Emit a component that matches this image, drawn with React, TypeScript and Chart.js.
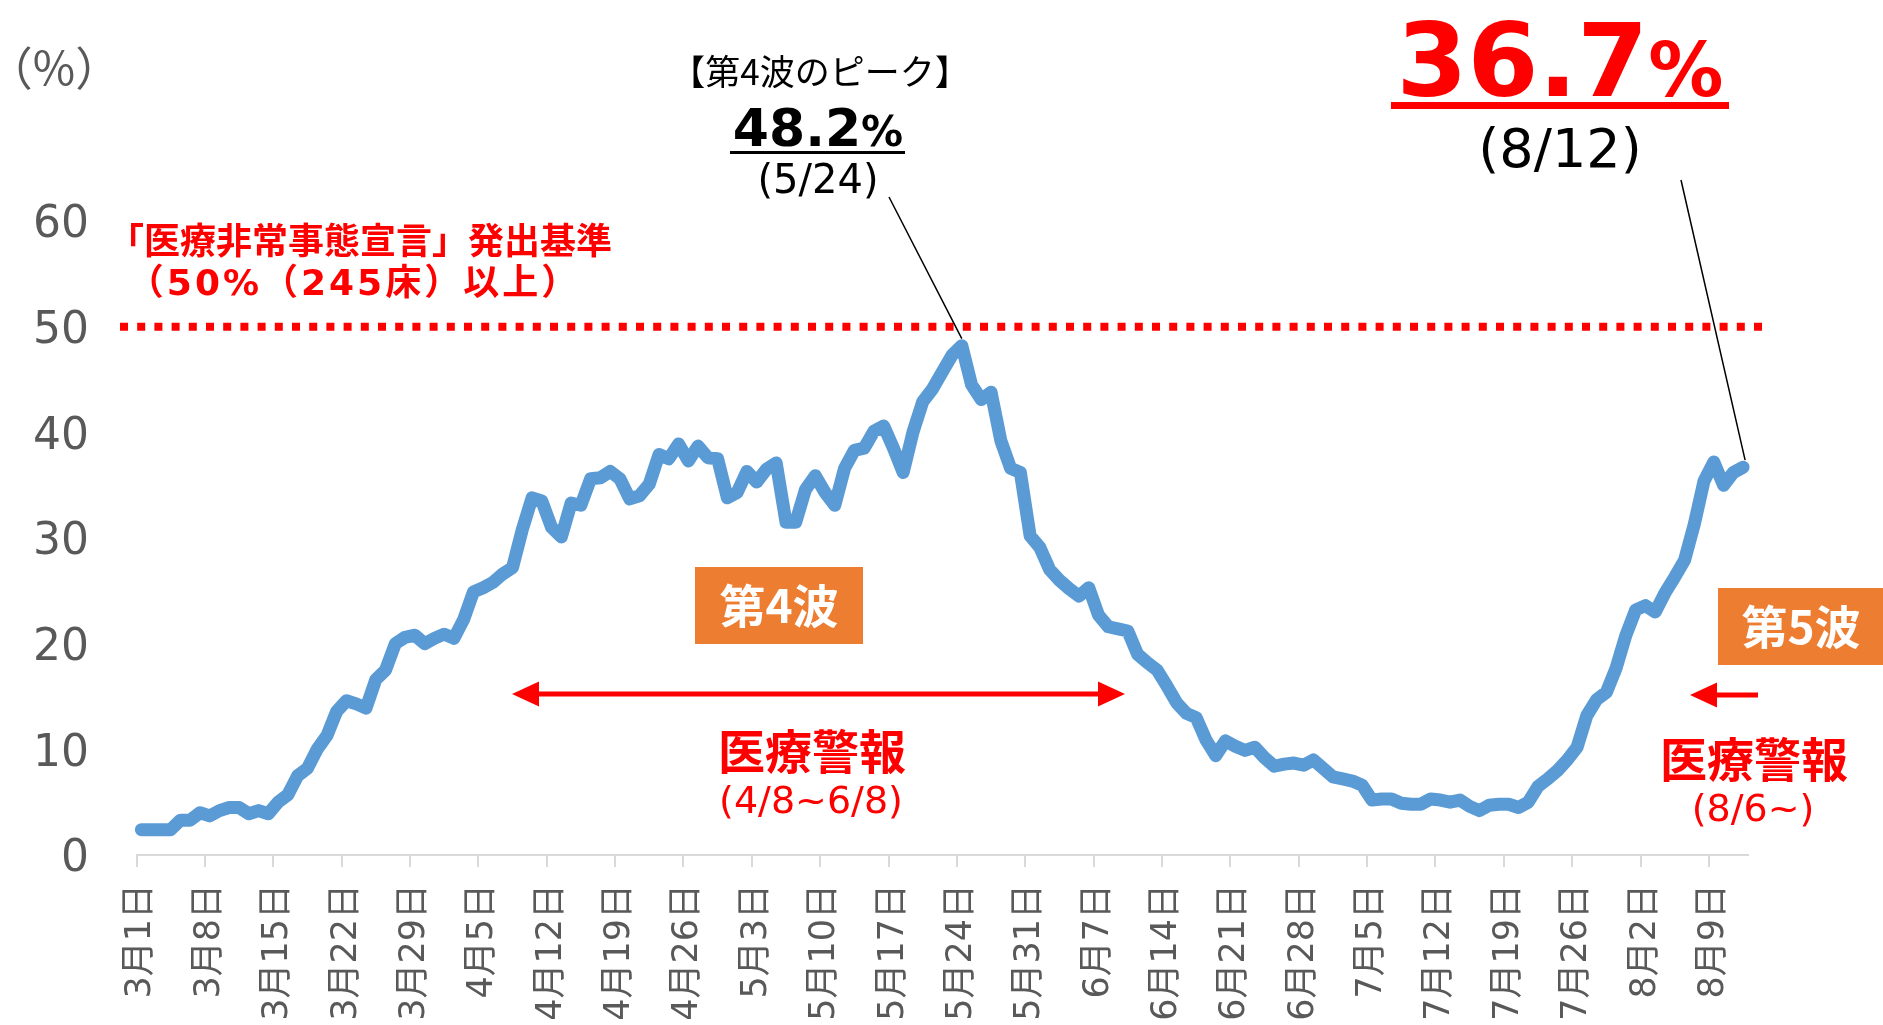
import React, { useEffect, useRef } from "react";
import { Chart, registerables } from "chart.js";

Chart.register(...registerables);

// ---- data ----
const MONTHS = [3, 4, 5, 6, 7, 8];
const DAYS_SHOWN = [31, 30, 31, 30, 31, 12];
const DATES: string[] = [];
MONTHS.forEach((m, k) => {
  for (let d = 1; d <= DAYS_SHOWN[k]; d++) DATES.push(`${m}月${d}日`);
});

const TICK_LABELS = [
  "3月1日", "3月8日", "3月15日", "3月22日", "3月29日", "4月5日", "4月12日", "4月19日",
  "4月26日", "5月3日", "5月10日", "5月17日", "5月24日", "5月31日", "6月7日", "6月14日",
  "6月21日", "6月28日", "7月5日", "7月12日", "7月19日", "7月26日", "8月2日", "8月9日",
];

// 病床使用率 (%) 3/1 - 8/12
const OCCUPANCY = [
  2.4, 2.4, 2.4, 2.4, 3.3, 3.3, 4.0, 3.7, 4.2, 4.5,
  4.5, 3.9, 4.2, 3.9, 5.0, 5.7, 7.5, 8.2, 10.0, 11.3,
  13.6, 14.6, 14.3, 13.9, 16.6, 17.5, 20.0, 20.6, 20.8, 20.0,
  20.5, 20.9, 20.5, 22.3, 24.9, 25.3, 25.8, 26.6, 27.2, 30.8,
  33.8, 33.5, 31.0, 30.1, 33.3, 33.1, 35.6, 35.7, 36.3, 35.6,
  33.7, 34.0, 35.1, 37.9, 37.5, 38.9, 37.3, 38.7, 37.6, 37.5,
  33.8, 34.3, 36.3, 35.3, 36.5, 37.1, 31.5, 31.5, 34.6, 35.9,
  34.3, 33.1, 36.6, 38.3, 38.5, 40.1, 40.6, 38.5, 36.2, 40.0,
  42.9, 44.1, 45.7, 47.3, 48.2, 44.5, 43.1, 43.8, 39.2, 36.6,
  36.2, 30.2, 29.1, 27.0, 26.0, 25.2, 24.5, 25.3, 22.7, 21.6,
  21.4, 21.2, 19.0, 18.2, 17.5, 16.0, 14.4, 13.4, 13.0, 10.9,
  9.4, 10.8, 10.3, 9.9, 10.2, 9.2, 8.4, 8.6, 8.7, 8.5,
  9.0, 8.2, 7.4, 7.2, 7.0, 6.6, 5.2, 5.3, 5.3, 4.9,
  4.8, 4.8, 5.3, 5.2, 5.0, 5.2, 4.6, 4.2, 4.7, 4.8,
  4.8, 4.5, 5.0, 6.5, 7.2, 8.0, 9.0, 10.2, 13.2, 14.7,
  15.4, 17.7, 20.8, 23.2, 23.6, 23.0, 24.8, 26.3, 27.9, 31.3,
  35.4, 37.2, 35.0, 36.2, 36.7,
];

const Y_TICKS = [0, 10, 20, 30, 40, 50, 60];
const Y_MIN = 0;
const Y_MAX = 60;
const Y_STEP = 10;
const THRESHOLD = 50;
const PEAK_DATE = "5月24日";
const LATEST_DATE = "8月12日";

const TICK_SET = new Set(TICK_LABELS);

const BLUE = "#5B9BD5";
const RED = "#FF0000";
const ORANGE = "#ED7D31";
const GRAY = "#595959";
const AXIS_GRAY = "#D9D9D9";
const JP = '"Noto Sans CJK JP", "DejaVu Sans", sans-serif';
const DV = '"DejaVu Sans", "Noto Sans CJK JP", sans-serif';

function drawArrowHead(ctx: CanvasRenderingContext2D, tipX: number, y: number, dir: number, len: number, half: number) {
  ctx.beginPath();
  ctx.moveTo(tipX, y);
  ctx.lineTo(tipX - dir * len, y - half);
  ctx.lineTo(tipX - dir * len, y + half);
  ctx.closePath();
  ctx.fill();
}

const annotationPlugin = {
  id: "annotations",
  beforeDatasetsDraw(chart: any) {
    const ctx = chart.ctx as CanvasRenderingContext2D;
    const ys = chart.scales.y;
    ctx.save();
    // y-axis labels
    ctx.fillStyle = GRAY;
    ctx.font = `44px ${DV}`;
    ctx.textAlign = "right";
    ctx.textBaseline = "middle";
    Y_TICKS.forEach((v) => ctx.fillText(String(v), 89, ys.getPixelForValue(v) + 5));

    // threshold dotted line
    const y = ys.getPixelForValue(THRESHOLD);
    ctx.strokeStyle = RED;
    ctx.lineWidth = 8;
    ctx.setLineDash([8, 9.2]);
    ctx.beginPath();
    ctx.moveTo(120, y);
    ctx.lineTo(1770, y);
    ctx.stroke();
    ctx.restore();
  },
  afterDraw(chart: any) {
    const ctx = chart.ctx as CanvasRenderingContext2D;
    ctx.save();

    // (%) unit
    ctx.fillStyle = GRAY;
    ctx.font = `46px ${JP}`;
    ctx.textAlign = "center";
    ctx.textBaseline = "middle";
    ctx.fillText("（%）", 54, 68);

    // threshold label
    ctx.fillStyle = RED;
    ctx.font = `bold 36px ${JP}`;
    ctx.fillText("「医療非常事態宣言」発出基準", 360, 240);
    ctx.font = `bold 36px ${DV}`;
    (ctx as any).letterSpacing = "3px";
    ctx.fillText("（50%（245床）以上）", 354, 286);
    (ctx as any).letterSpacing = "0px";

    // 4th wave peak
    ctx.fillStyle = "#000";
    ctx.font = `35px ${JP}`;
    ctx.fillText("【第4波のピーク】", 820, 72);
    ctx.textBaseline = "alphabetic";
    ctx.textAlign = "left";
    ctx.font = `bold 52px ${DV}`;
    const w1 = ctx.measureText("48.2").width;
    ctx.font = `bold 42px ${DV}`;
    const w2 = ctx.measureText("%").width;
    const sx = 818 - (w1 + w2) / 2;
    ctx.font = `bold 52px ${DV}`;
    ctx.fillText("48.2", sx, 146);
    ctx.font = `bold 42px ${DV}`;
    ctx.fillText("%", sx + w1, 146);
    ctx.fillRect(730, 151, 175, 3);
    ctx.textAlign = "center";
    ctx.textBaseline = "middle";
    ctx.font = `40px ${DV}`;
    ctx.fillText("(5/24)", 818, 183);

    // latest value
    ctx.textAlign = "left";
    ctx.textBaseline = "alphabetic";
    ctx.fillStyle = RED;
    ctx.font = `bold 102px ${DV}`;
    const w3 = ctx.measureText("36.7").width;
    ctx.font = `bold 75px ${DV}`;
    const w4 = ctx.measureText("%").width;
    const sx2 = 1560 - (w3 + w4) / 2;
    ctx.font = `bold 102px ${DV}`;
    ctx.fillText("36.7", sx2, 96);
    ctx.font = `bold 75px ${DV}`;
    ctx.fillText("%", sx2 + w3, 96);
    ctx.fillRect(1391, 102, 338, 7);
    ctx.fillStyle = "#000";
    ctx.textAlign = "center";
    ctx.textBaseline = "middle";
    ctx.font = `54px ${DV}`;
    ctx.fillText("(8/12)", 1560, 153);

    // leader lines to data points
    const meta = chart.getDatasetMeta(0);
    const pk = meta.data[DATES.indexOf(PEAK_DATE)];
    const lt = meta.data[DATES.indexOf(LATEST_DATE)];
    ctx.strokeStyle = "#000";
    ctx.lineWidth = 1.5;
    ctx.beginPath();
    ctx.moveTo(889, 197);
    ctx.lineTo(pk.x, pk.y - 7);
    ctx.moveTo(1681, 180);
    ctx.lineTo(lt.x + 2, lt.y - 7);
    ctx.stroke();

    // wave boxes
    ctx.fillStyle = ORANGE;
    ctx.fillRect(695, 567, 168, 77);
    ctx.fillRect(1718, 588, 165, 77);
    ctx.fillStyle = "#FFF";
    ctx.font = `bold 46px ${JP}`;
    ctx.fillText("第4波", 779, 606);
    ctx.fillText("第5波", 1801, 627);

    // medical alert arrows
    ctx.fillStyle = RED;
    ctx.strokeStyle = RED;
    ctx.lineWidth = 5;
    ctx.beginPath();
    ctx.moveTo(530, 694);
    ctx.lineTo(1108, 694);
    ctx.moveTo(1705, 695);
    ctx.lineTo(1758, 695);
    ctx.stroke();
    drawArrowHead(ctx, 512, 694, -1, 27, 12.5);
    drawArrowHead(ctx, 1125, 694, 1, 27, 12.5);
    drawArrowHead(ctx, 1690, 695, -1, 27, 12.5);

    ctx.font = `bold 47px ${JP}`;
    ctx.fillText("医療警報", 812, 751);
    ctx.fillText("医療警報", 1754, 759);
    ctx.font = `38px ${DV}`;
    ctx.fillText("(4/8~6/8)", 811, 803);
    ctx.fillText("(8/6~)", 1753, 811);

    ctx.restore();
  },
};

export default function App() {
  const canvasRef = useRef<HTMLCanvasElement | null>(null);

  useEffect(() => {
    const canvas = canvasRef.current;
    if (!canvas) return;
    const chart = new Chart(canvas, {
      type: "line",
      data: {
        labels: DATES,
        datasets: [
          {
            data: OCCUPANCY,
            borderColor: BLUE,
            borderWidth: 13,
            pointRadius: 0,
            pointHoverRadius: 0,
            tension: 0,
            fill: false,
            borderJoinStyle: "round",
            borderCapStyle: "round",
          },
        ],
      },
      options: {
        animation: false,
        responsive: false,
        devicePixelRatio: 1,
        events: [],
        layout: { padding: { top: 221, right: 135, left: 0, bottom: 0 } },
        plugins: { legend: { display: false }, tooltip: { enabled: false } },
        scales: {
          x: {
            type: "category",
            offset: true,
            grid: {
              display: true,
              offset: true,
              drawOnChartArea: false,
              drawTicks: true,
              tickLength: 12,
              lineWidth: 2,
              color: (c: any) => (TICK_SET.has(DATES[c.index]) ? AXIS_GRAY : "rgba(0,0,0,0)"),
              tickColor: (c: any) => (TICK_SET.has(DATES[c.index]) ? AXIS_GRAY : "rgba(0,0,0,0)"),
            },
            border: { display: true, color: AXIS_GRAY, width: 2 },
            ticks: {
              autoSkip: false,
              minRotation: 90,
              maxRotation: 90,
              padding: 17,
              color: GRAY,
              font: { family: DV, size: 35 },
              callback: (_v: any, i: number) => (TICK_SET.has(DATES[i]) ? DATES[i] : ""),
            },
            afterFit: (s: any) => {
              s.height = 170;
            },
          },
          y: {
            min: Y_MIN,
            max: Y_MAX,
            grid: { display: false, drawTicks: false },
            border: { display: false },
            ticks: { stepSize: Y_STEP, display: false },
            afterFit: (s: any) => {
              s.width = 136.5;
            },
          },
        },
      },
      plugins: [annotationPlugin],
    });
    return () => chart.destroy();
  }, []);

  return (
    <div style={{ position: "fixed", left: 0, top: 0, width: 1883, height: 1025, background: "#fff" }}>
      <canvas ref={canvasRef} width={1883} height={1025} style={{ display: "block" }} />
    </div>
  );
}
